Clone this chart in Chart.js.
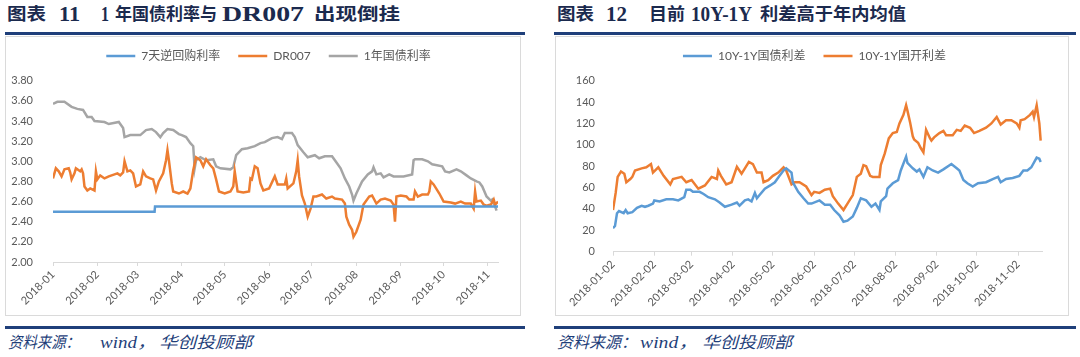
<!DOCTYPE html>
<html><head><meta charset="utf-8">
<script src="https://cdn.jsdelivr.net/npm/chart.js@4.4.0/dist/chart.umd.min.js"></script>
<style>
body{margin:0;width:1080px;height:357px;background:#fff;position:relative;overflow:hidden;}
.fit{position:absolute;white-space:pre;transform-origin:0 0;}
.tc{top:3px;font-family:"Noto Sans CJK SC",sans-serif;font-weight:bold;font-size:17px;line-height:20px;color:#1B2A4E;}
.tl{top:4px;font-family:"Liberation Serif",serif;font-weight:bold;font-size:20px;line-height:20px;color:#1B2A4E;}
.sc{top:334px;font-style:italic;font-size:16px;line-height:18px;color:#1F3F7A;font-family:"Liberation Serif","Noto Sans CJK SC",serif;}
.rule{position:absolute;height:3px;background:#1F3F7A;}
.box{position:absolute;top:36px;height:280px;border:1px solid #DADADA;box-sizing:border-box;}
.cw{position:absolute;top:36px;height:279px;}
</style></head>
<body>
<div class="rule" style="top:32px;left:5px;width:520px"></div>
<div class="rule" style="top:32px;left:554px;width:522px"></div>
<div class="box" style="left:5px;width:516px"></div>
<div class="box" style="left:555px;width:514px"></div>
<div class="cw" style="left:5px;width:516px"><canvas id="c1"></canvas></div>
<div class="cw" style="left:555px;width:514px"><canvas id="c2"></canvas></div>
<div class="rule" style="top:326px;left:5px;width:520px"></div>
<div class="rule" style="top:326px;left:554px;width:522px"></div>
<div id="texts"></div>
<script>
// ---------- Chart 1 data (x = days since 2018-01-01) ----------
const months1 = ['2018-01','2018-02','2018-03','2018-04','2018-05','2018-06','2018-07','2018-08','2018-09','2018-10','2018-11'];
const monthDays1 = [0,31,59,90,120,151,181,212,243,273,304];
const rateTicks = [2.00,2.20,2.40,2.60,2.80,3.00,3.20,3.40,3.60,3.80];
const repo7d = [[0,2.50],[71,2.50],[71.3,2.55],[311,2.55]];
const dr007 = [[0,2.83],[2,2.93],[4,2.90],[6,2.85],[8,2.92],[11,2.93],[12,2.89],[13,2.82],[15,2.88],[16,2.93],[19,2.90],[20,2.92],[21,2.88],[22,2.75],[24,2.71],[26,2.73],[29,2.71],[30,2.90],[31,2.82],[33,2.86],[36,2.83],[39,2.85],[43,2.87],[45,2.88],[47,2.86],[49,2.89],[50,3.00],[52,2.90],[54,2.91],[56,2.88],[58,2.75],[61,2.77],[63,2.90],[65,2.85],[68,2.83],[70,2.82],[72,2.71],[74,2.80],[77,2.88],[79,3.01],[80,3.11],[81,3.01],[83,2.78],[84,2.70],[88,2.68],[91,2.70],[94,2.68],[96,2.73],[98,2.91],[100,3.04],[103,3.01],[105,2.95],[107,3.02],[110,2.96],[112,2.93],[114,2.82],[116,2.70],[120,2.68],[124,2.70],[126,2.75],[127,2.90],[129,2.70],[133,2.69],[137,2.70],[138,2.83],[139,2.82],[141,2.95],[143,2.93],[145,2.78],[147,2.71],[151,2.73],[155,2.85],[157,2.77],[162,2.77],[163,2.83],[164,2.73],[168,2.78],[170,2.90],[171,3.01],[172,2.85],[174,2.66],[176,2.58],[178,2.45],[180,2.53],[182,2.65],[184,2.65],[188,2.67],[191,2.63],[195,2.65],[197,2.63],[202,2.62],[204,2.58],[205,2.45],[207,2.37],[209,2.32],[210,2.25],[212,2.30],[215,2.42],[217,2.57],[221,2.65],[223,2.66],[226,2.58],[229,2.62],[232,2.63],[236,2.61],[238,2.57],[239,2.40],[240,2.65],[243,2.66],[247,2.65],[249,2.62],[252,2.62],[253,2.70],[255,2.65],[258,2.67],[262,2.67],[263,2.70],[264,2.80],[266,2.77],[270,2.68],[273,2.60],[278,2.59],[281,2.58],[285,2.60],[288,2.58],[292,2.58],[294,2.53],[295,2.70],[296,2.60],[299,2.61],[301,2.57],[303,2.56],[306,2.57],[308,2.62],[309,2.57],[311,2.60]];
const bond1y = [[0,3.57],[3,3.59],[8,3.59],[13,3.54],[17,3.52],[21,3.51],[24,3.44],[27,3.44],[29,3.40],[36,3.39],[39,3.37],[46,3.39],[47,3.37],[49,3.33],[50,3.24],[54,3.26],[61,3.26],[65,3.31],[69,3.32],[72,3.29],[75,3.24],[77,3.28],[80,3.32],[84,3.31],[88,3.27],[90,3.26],[93,3.24],[96,3.18],[98,3.15],[99,2.93],[100,3.01],[103,3.04],[107,3.01],[112,3.02],[114,2.95],[117,2.93],[124,2.92],[126,2.94],[128,3.06],[132,3.12],[136,3.13],[141,3.15],[145,3.18],[148,3.19],[153,3.23],[157,3.24],[160,3.22],[162,3.28],[167,3.28],[169,3.24],[171,3.16],[175,3.09],[178,3.04],[183,3.06],[186,3.03],[190,3.05],[195,3.05],[197,3.01],[201,2.93],[204,2.83],[207,2.75],[209,2.67],[210,2.61],[212,2.68],[216,2.80],[220,2.87],[223,2.90],[224,2.94],[226,2.87],[229,2.88],[231,2.84],[235,2.87],[238,2.85],[245,2.85],[251,2.87],[252,3.01],[253,3.02],[258,3.02],[262,3.00],[265,2.97],[272,2.95],[274,2.90],[277,2.89],[282,2.92],[285,2.90],[289,2.86],[292,2.83],[296,2.80],[298,2.79],[300,2.75],[303,2.65],[306,2.61],[307,2.62],[309,2.55],[310,2.51]];

// ---------- Chart 2 data (x = days since 2018-01-01) ----------
const months2 = ['2018-01-02','2018-02-02','2018-03-02','2018-04-02','2018-05-02','2018-06-02','2018-07-02','2018-08-02','2018-09-02','2018-10-02','2018-11-02'];
const monthDays2 = [1,32,60,91,121,152,182,213,244,274,305];
const spreadTicks = [0,20,40,60,80,100,120,140,160];
const govSpread = [[1,22],[2.5,24],[4,36],[5.5,38],[9,36],[10.5,39],[12,36],[15.5,37],[19,41],[22.5,43],[25,42],[27.5,43],[31,45],[32,48],[36,47],[41,49],[46,49],[50,48],[54.5,51],[56,58],[59,58],[61,56],[66,56],[69,54],[72.5,51],[77.5,49],[81,46],[85,42],[90,44],[94,46],[96,43],[100,48],[102.5,49],[105,47],[107.5,55],[109,50],[111,53],[115,59],[119,62],[122.5,65],[126,71],[129,76],[131,78],[135,74],[136,65],[140,56],[144,50],[147.5,45],[150,45],[156,48],[160,44],[164,44],[167,39],[171,34],[174,28],[177,29],[181,33],[184,41],[187,50],[191,48],[195,42],[198,45],[201,39],[202,47],[206,52],[207,59],[211,64],[215,67],[217,76],[221,89],[222,83],[226,78],[229,75],[231,77],[234,70],[237,79],[241,76],[245,74],[249,77],[255,82],[259,78],[261,76],[264,67],[267,64],[271,61],[275,64],[281,65],[286,68],[290,70],[292,65],[296,68],[301,69],[306,71],[309,76],[312,76],[315,79],[319,88],[321,87],[322,84]];
const cdbSpread = [[1,39],[3,55],[4.5,70],[7,75],[9.5,73],[11,65],[14,68],[15.5,70],[17.5,76],[22.5,78],[26,79],[29.5,82],[31,74],[35,79],[39,71],[44,63],[46,68],[52.5,70],[56,65],[60,67],[65,59],[70,62],[75,70],[79,68],[80,76],[82,71],[86,63],[90,65],[94,79.5],[97.5,73],[100,78],[103,84],[106,82],[109,74],[112.5,74],[114,65],[117.5,67],[121,71],[125,74],[129,79],[131,76],[135,63],[137.5,65],[141,65],[146,61],[150,53],[152,56],[156,55],[160,58],[164,59],[166,52],[170,45],[174,39],[177,45],[181,53],[184,70],[187,73],[189,81],[191,80],[194,71],[196,70],[201,70],[202,81],[205,92],[208,106],[211,111],[214,112],[216,120],[219,128],[221,137],[222,132],[224,121],[226,108],[227,105],[230,102],[232,97],[234,93],[236,114],[239,106],[240,104],[242,107],[246,111],[249,113],[251,109],[256,109],[259,114],[262,113],[265,118],[269,116],[272,111],[276,113],[281,116],[285,120],[289,126],[292,119],[296,123],[300,123],[304,120],[306,116],[307,123],[310,124],[314,128],[316,131],[317,126],[319,137],[321,120],[322,104]];

// ---------- Heading / source text pieces: [text, class, left, right] ----------
const textPieces = [
  ['图表','tc',7,46],['11','tl',59,80],['1','tl',101,109],['年国债利率与','tc',115,217],['DR007','tl',222,304],['出现倒挂','tc',314,400],
  ['图表','tc',557,594],['12','tl',606,627],['目前','tc',649,685],['10Y-1Y','tl',691,752],['利差高于年内均值','tc',760,906],
  ['资料来源：','sc',8,80],['wind，','sc',100,156],['华创投顾部','sc',159,252],
  ['资料来源：','sc',557,637],['wind，','sc',640,698],['华创投顾部','sc',702,792]
];
const holder = document.getElementById('texts');
const els = textPieces.map(([t,c,l,r])=>{ const d=document.createElement('div'); d.className='fit '+c; d.textContent=t; d.style.left=l+'px'; holder.appendChild(d); return d; });
function fitAll(){ els.forEach((d,i)=>{ const [t,c,l,r]=textPieces[i]; d.style.transform='none'; const w=d.getBoundingClientRect().width; if(w>0) d.style.transform='scaleX('+((r-l)/w)+')'; }); }
fitAll(); if(document.fonts&&document.fonts.ready) document.fonts.ready.then(fitAll);

const BLUE='#5B9BD5', ORANGE='#ED7D31', GRAY='#A5A5A5', TXT='#595959', AXIS='#D9D9D9';
const FONT = '"Lato","Noto Sans CJK SC",sans-serif';

const legendTweak = {
  id:'legendTweak',
  beforeInit(chart, args, opts){
    const lg = chart.legend; if(!lg) return;
    const fit = lg.fit;
    lg.fit = function(){ fit.call(this); this.height = opts.h; };
  },
  afterLayout(chart, args, opts){
    const lg = chart.legend; if(!lg) return;
    lg.left += opts.dx; lg.right += opts.dx;
  }
};

function ds(label, pts, color){
  return {label, data: pts.map(([x,y])=>({x,y})), borderColor:color, backgroundColor:color,
    borderWidth:2.5, pointRadius:0, pointHoverRadius:0, pointHitRadius:0, pointBorderWidth:2.5,
    pointBorderColor:color, tension:0, fill:false};
}

function makeChart(id, cfg){
  return new Chart(document.getElementById(id), {
    type:'line',
    data:{datasets:cfg.datasets},
    plugins:[legendTweak],
    options:{
      responsive:true, maintainAspectRatio:false, animation:false,
      layout:{padding:{top:-4,left:0,right:cfg.padRight,bottom:0}},
      plugins:{
        legend:{position:'top', labels:{usePointStyle:true, pointStyle:'line', pointStyleWidth:29, boxHeight:12,
          padding:18, color:TXT, font:{family:FONT,size:12}}},
        tooltip:{enabled:false},
        legendTweak:{h:cfg.legendH, dx:cfg.dx}
      },
      scales:{
        x:{type:'linear', min:cfg.xmin, max:cfg.xmax,
          afterBuildTicks:s=>{ s.ticks = cfg.tickDays.map(v=>({value:v})); },
          afterFit:s=>{ s.height = cfg.xH; },
          ticks:{autoSkip:false, minRotation:45, maxRotation:45, padding:2, color:TXT,
            font:{family:FONT,size:11}, callback:(v,i)=>cfg.tickLabels[i]},
          grid:{display:true, drawOnChartArea:false, drawTicks:true, tickLength:4, color:AXIS},
          border:{display:true, color:AXIS, width:1}},
        y:{min:cfg.ymin, max:cfg.ymax,
          afterBuildTicks:s=>{ s.ticks = cfg.yTicks.map(v=>({value:v})); },
          afterFit:s=>{ s.width = cfg.yW; },
          ticks:{padding:cfg.yPad, color:TXT, font:{family:FONT,size:11}, callback:cfg.yFmt},
          grid:{display:false}, border:{display:false}}
      }
    }
  });
}

makeChart('c1', {
  datasets:[ds('7天逆回购利率', repo7d, BLUE), ds('DR007', dr007, ORANGE), ds('1年国债利率', bond1y, GRAY)],
  padRight:23, legendH:48.7, dx:17, xmin:0, xmax:311, tickDays:monthDays1, tickLabels:months1, xH:53,
  ymin:2, ymax:3.8, yTicks:rateTicks, yW:48, yPad:12, yFmt:v=>v.toFixed(2)
});
makeChart('c2', {
  datasets:[ds('10Y-1Y国债利差', govSpread, BLUE), ds('10Y-1Y国开利差', cdbSpread, ORANGE)],
  padRight:27, legendH:48.7, dx:16, xmin:1, xmax:323, tickDays:monthDays2, tickLabels:months2, xH:63.3,
  ymin:0, ymax:160, yTicks:spreadTicks, yW:58, yPad:10, yFmt:v=>String(v)
});
</script>
</body></html>
